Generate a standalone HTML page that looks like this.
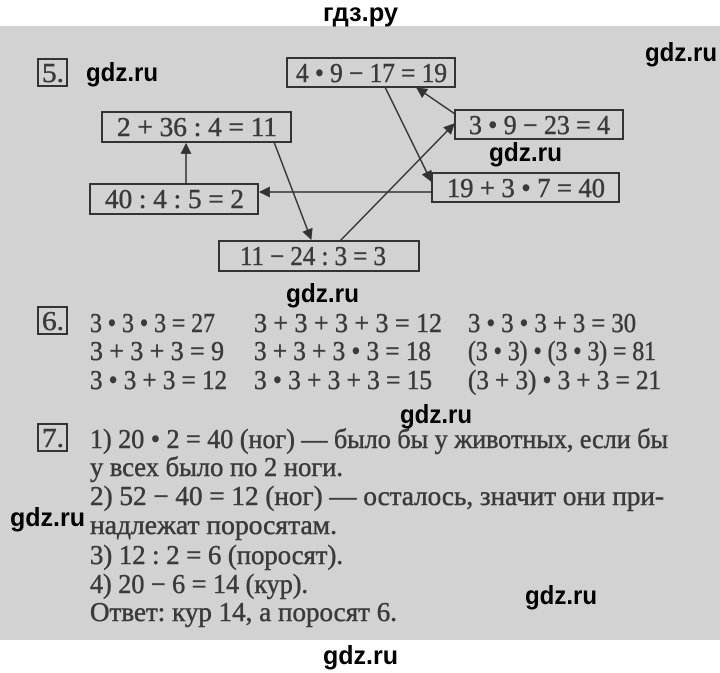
<!DOCTYPE html>
<html><head><meta charset="utf-8"><style>
html,body{margin:0;padding:0;background:#fff;}
svg{display:block}
.s{font-family:"Liberation Serif","Noto Serif CJK SC",serif;fill:#3a3a3a;stroke:#3a3a3a;stroke-width:0.5;font-size:27px;}
.w{font-family:"Liberation Sans","Noto Sans CJK SC",sans-serif;font-weight:bold;fill:#000;font-size:26px;}
</style></head><body>
<svg width="720" height="673" viewBox="0 0 720 673" xmlns="http://www.w3.org/2000/svg">
<defs><marker id="a" viewBox="0 0 10 10" refX="9" refY="5" markerWidth="12" markerHeight="11" orient="auto-start-reverse" markerUnits="userSpaceOnUse"><path d="M0,0 L10,5 L0,10 z" fill="#333"/></marker></defs>
<rect x="0" y="26" width="720" height="614" fill="#d2d2d2"/>
<text class="w" x="323" y="21" textLength="75" lengthAdjust="spacingAndGlyphs">гдз.ру</text>

<rect x="38" y="59" width="29" height="27" fill="none" stroke="#333" stroke-width="2"/>
<text class="s" x="42" y="82" font-size="25" textLength="22" lengthAdjust="spacingAndGlyphs">5.</text>
<text class="w" x="86" y="81" textLength="72" lengthAdjust="spacingAndGlyphs">gdz.ru</text>
<text class="w" x="645" y="61" textLength="72" lengthAdjust="spacingAndGlyphs">gdz.ru</text>
<text class="w" x="489" y="161" textLength="73" lengthAdjust="spacingAndGlyphs">gdz.ru</text>
<text class="w" x="286" y="302" textLength="73" lengthAdjust="spacingAndGlyphs">gdz.ru</text>

<g fill="none" stroke="#333" stroke-width="2">
<rect x="287" y="58" width="168" height="29"/>
<rect x="455" y="110" width="168" height="29"/>
<rect x="102" y="112" width="189" height="30"/>
<rect x="90" y="184" width="168" height="30"/>
<rect x="432" y="173" width="187" height="29"/>
<rect x="219" y="241" width="200" height="30"/>
</g>
<g stroke="#333" stroke-width="1.5" fill="none">
<line x1="186" y1="184" x2="186" y2="144" marker-end="url(#a)"/>
<line x1="274" y1="142" x2="311" y2="239" marker-end="url(#a)"/>
<line x1="340" y1="241" x2="454" y2="124" marker-end="url(#a)"/>
<line x1="455" y1="114" x2="417" y2="88" marker-end="url(#a)"/>
<line x1="385" y1="87" x2="431" y2="181" marker-end="url(#a)"/>
<line x1="432" y1="192" x2="260" y2="192" marker-end="url(#a)"/>
</g>
<g class="s">
<text x="296" y="82" textLength="151" lengthAdjust="spacingAndGlyphs">4 • 9 − 17 = 19</text>
<text x="469" y="134" textLength="141" lengthAdjust="spacingAndGlyphs">3 • 9 − 23 = 4</text>
<text x="117" y="136" textLength="160" lengthAdjust="spacingAndGlyphs">2 + 36 : 4 = 11</text>
<text x="105" y="208" textLength="139" lengthAdjust="spacingAndGlyphs">40 : 4 : 5 = 2</text>
<text x="447" y="197" textLength="158" lengthAdjust="spacingAndGlyphs">19 + 3 • 7 = 40</text>
<text x="240" y="265" textLength="146" lengthAdjust="spacingAndGlyphs">11 − 24 : 3 = 3</text>
</g>

<rect x="38" y="307" width="29" height="27" fill="none" stroke="#333" stroke-width="2"/>
<text class="s" x="42" y="330" font-size="25" textLength="22" lengthAdjust="spacingAndGlyphs">6.</text>
<g class="s">
<text x="90" y="332" textLength="125" lengthAdjust="spacingAndGlyphs">3 • 3 • 3 = 27</text>
<text x="254" y="332" textLength="188" lengthAdjust="spacingAndGlyphs">3 + 3 + 3 + 3 = 12</text>
<text x="468" y="332" textLength="168" lengthAdjust="spacingAndGlyphs">3 • 3 • 3 + 3 = 30</text>
<text x="90" y="360" textLength="134" lengthAdjust="spacingAndGlyphs">3 + 3 + 3 = 9</text>
<text x="254" y="360" textLength="177" lengthAdjust="spacingAndGlyphs">3 + 3 + 3 • 3 = 18</text>
<text x="468" y="360" textLength="188" lengthAdjust="spacingAndGlyphs">(3 • 3) • (3 • 3) = 81</text>
<text x="90" y="389" textLength="137" lengthAdjust="spacingAndGlyphs">3 • 3 + 3 = 12</text>
<text x="254" y="389" textLength="178" lengthAdjust="spacingAndGlyphs">3 • 3 + 3 + 3 = 15</text>
<text x="468" y="389" textLength="193" lengthAdjust="spacingAndGlyphs">(3 + 3) • 3 + 3 = 21</text>
</g>
<text class="w" x="400" y="423" textLength="72" lengthAdjust="spacingAndGlyphs">gdz.ru</text>

<rect x="38" y="424" width="29" height="27" fill="none" stroke="#333" stroke-width="2"/>
<text class="s" x="42" y="447" font-size="25" textLength="22" lengthAdjust="spacingAndGlyphs">7.</text>
<g class="s">
<text x="90" y="448" textLength="578" lengthAdjust="spacingAndGlyphs">1) 20 • 2 = 40 (ног) — было бы у животных, если бы</text>
<text x="90" y="476" textLength="253" lengthAdjust="spacingAndGlyphs">у всех было по 2 ноги.</text>
<text x="90" y="505" textLength="574" lengthAdjust="spacingAndGlyphs">2) 52 − 40 = 12 (ног) — осталось, значит они при-</text>
<text x="90" y="534" textLength="247" lengthAdjust="spacingAndGlyphs">надлежат поросятам.</text>
<text x="90" y="564" textLength="253" lengthAdjust="spacingAndGlyphs">3) 12 : 2 = 6 (поросят).</text>
<text x="90" y="593" textLength="218" lengthAdjust="spacingAndGlyphs">4) 20 − 6 = 14 (кур).</text>
<text x="90" y="621" textLength="307" lengthAdjust="spacingAndGlyphs">Ответ: кур 14, а поросят 6.</text>
</g>
<text class="w" x="10" y="526" textLength="75" lengthAdjust="spacingAndGlyphs">gdz.ru</text>
<text class="w" x="525" y="604" textLength="72" lengthAdjust="spacingAndGlyphs">gdz.ru</text>
<text class="w" x="323" y="664" textLength="75" lengthAdjust="spacingAndGlyphs">gdz.ru</text>
</svg>
</body></html>
